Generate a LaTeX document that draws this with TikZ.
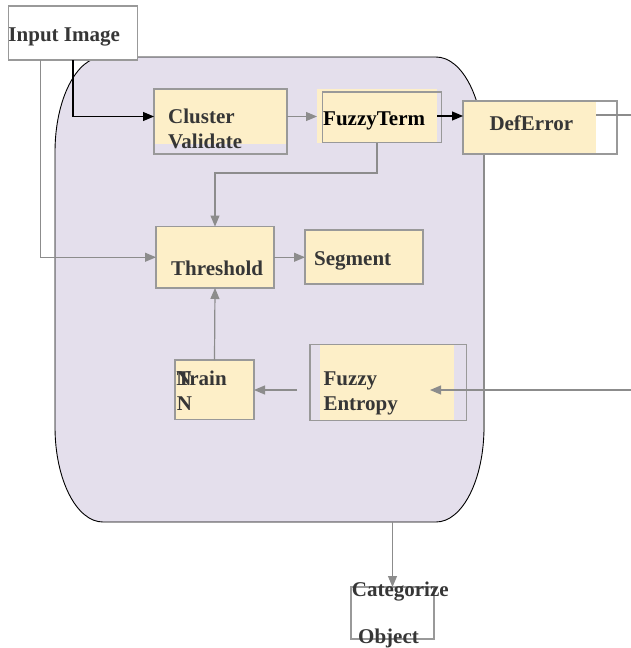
\documentclass[tikz,border=0pt]{standalone}
\usepackage{fontspec}
\setmainfont{Liberation Serif}
\usetikzlibrary{arrows.meta}
\definecolor{lav}{HTML}{E4DFEC}
\definecolor{yel}{HTML}{FDEFC8}
\definecolor{lgray}{HTML}{8C8C8C}
\definecolor{bgray}{HTML}{999999}
\definecolor{tgray}{HTML}{363636}
\tikzset{
  x=1pt, y=1pt,
  fillbox/.style={rectangle, fill=yel, inner sep=0pt, outer sep=0pt},
  borderbox/.style={rectangle, draw=bgray, line width=1.3pt, inner sep=0pt, outer sep=0pt},
  lbl/.style={anchor=base west, inner sep=0pt, text=tgray, align=left,
    font=\bfseries\fontsize{21}{24.5}\selectfont},
  graylink/.style={draw=lgray, line width=1.2pt},
  grayarrow/.style={graylink, -{Triangle[length=11pt,width=9pt]}},
  blackarrow/.style={draw=black, line width=1.2pt, -{Triangle[length=11pt,width=9pt]}},
}
\begin{document}
\begin{tikzpicture}
\useasboundingbox (0,0) rectangle (631,-648);
% big rounded container
\path[fill=lav, draw=black, line width=0.9pt]
  (103,-57) -- (436,-57)
  arc[start angle=90, end angle=0, x radius=48, y radius=95]
  -- (484,-427)
  arc[start angle=0, end angle=-90, x radius=48, y radius=95]
  -- (103,-522)
  arc[start angle=270, end angle=180, x radius=48, y radius=95]
  -- (55,-152)
  arc[start angle=180, end angle=90, x radius=48, y radius=95] -- cycle;
\draw[lgray, line width=1.5pt] (484,-154) -- (484,-432);

% Input Image
\node[borderbox, fill=white, minimum width=129, minimum height=54] (inp) at (73,-33) {};
\node[lbl] (inpt) at (8.3,-41.3) {Input Image};

% Cluster Validate
\node[fillbox, minimum width=133, minimum height=55] (cvfill) at (220.5,-116.5) {};
\node[borderbox, minimum width=133, minimum height=65] (cv) at (220.5,-121.5) {};
\node[lbl] (cvt) at (168,-148) {Cluster\\Validate};

% FuzzyTerm
\node[fillbox, minimum width=120, minimum height=54] (ftfill) at (377,-116) {};
\node[borderbox, minimum width=119, minimum height=50.5] (ft) at (382,-117.25) {};
\node[lbl, text=black] (ftt) at (323,-125) {FuzzyTerm};

% DefError
\node[fillbox, minimum width=133, minimum height=52] (defill) at (529.5,-127) {};
\node[borderbox, minimum width=154, minimum height=53] (de) at (540,-127.5) {};
\node[lbl] (det) at (489.3,-130) {DefError};

% Threshold
\node[borderbox, fill=yel, minimum width=118, minimum height=61.5] (th) at (215,-257.25) {};
\node[lbl] (tht) at (171,-275.7) {Threshold};

% Segment
\node[borderbox, fill=yel, minimum width=118, minimum height=54] (sg) at (364,-257) {};
\node[lbl] (sgt) at (314,-265) {Segment};

% Train N
\node[borderbox, fill=yel, minimum width=79, minimum height=59.5] (tn) at (214.5,-389.75) {};
\node[lbl] (tnt) at (176.7,-410) {Train\\N};
\node[lbl] (tnn) at (176.2,-385.7) {N};

% Fuzzy Entropy
\node[fillbox, minimum width=134, minimum height=75] (fefill) at (387,-382.5) {};
\node[borderbox, minimum width=156.5, minimum height=76] (fe) at (388.25,-382.5) {};
\node[lbl] (fet) at (323.3,-410) {Fuzzy\\Entropy};

% Categorize Object
\node[borderbox, minimum width=83, minimum height=52] (cat) at (392.5,-613) {};
\node[lbl] (catt) at (351.7,-596) {Categorize};
\node[lbl] (cato) at (358,-643) {Object};

% free ends
\coordinate (r1) at (631,-115);
\coordinate (r2) at (631,-390);
\coordinate (c1) at (297,-390);
\coordinate (c2) at (430,-390);
\coordinate (sb) at (392.5,-522);

% connectors
\draw[blackarrow] (inp.south) |- (cvfill.west);
\draw[grayarrow] ([xshift=-32.3pt]inp.south) |- (th.west);
\draw[grayarrow] (cvfill.east) -- (cvfill.east -| ftfill.west);
\draw[blackarrow] (ftfill.east) -- (ftfill.east -| de.west);
\draw[graylink] (r1 -| defill.east) -- (r1);
\draw[grayarrow] (ftfill.south) -- ++(0,-30) -| (th.north);
\draw[grayarrow] (th.east) -- (th.east -| sg.west);
\draw[grayarrow] (tn.north) -- (th.south);
\draw[grayarrow] (c1) -- (c1 -| tn.east);
\draw[grayarrow] (r2) -- (c2);
\draw[grayarrow] (sb) -- (cat.north);
\end{tikzpicture}
\end{document}
